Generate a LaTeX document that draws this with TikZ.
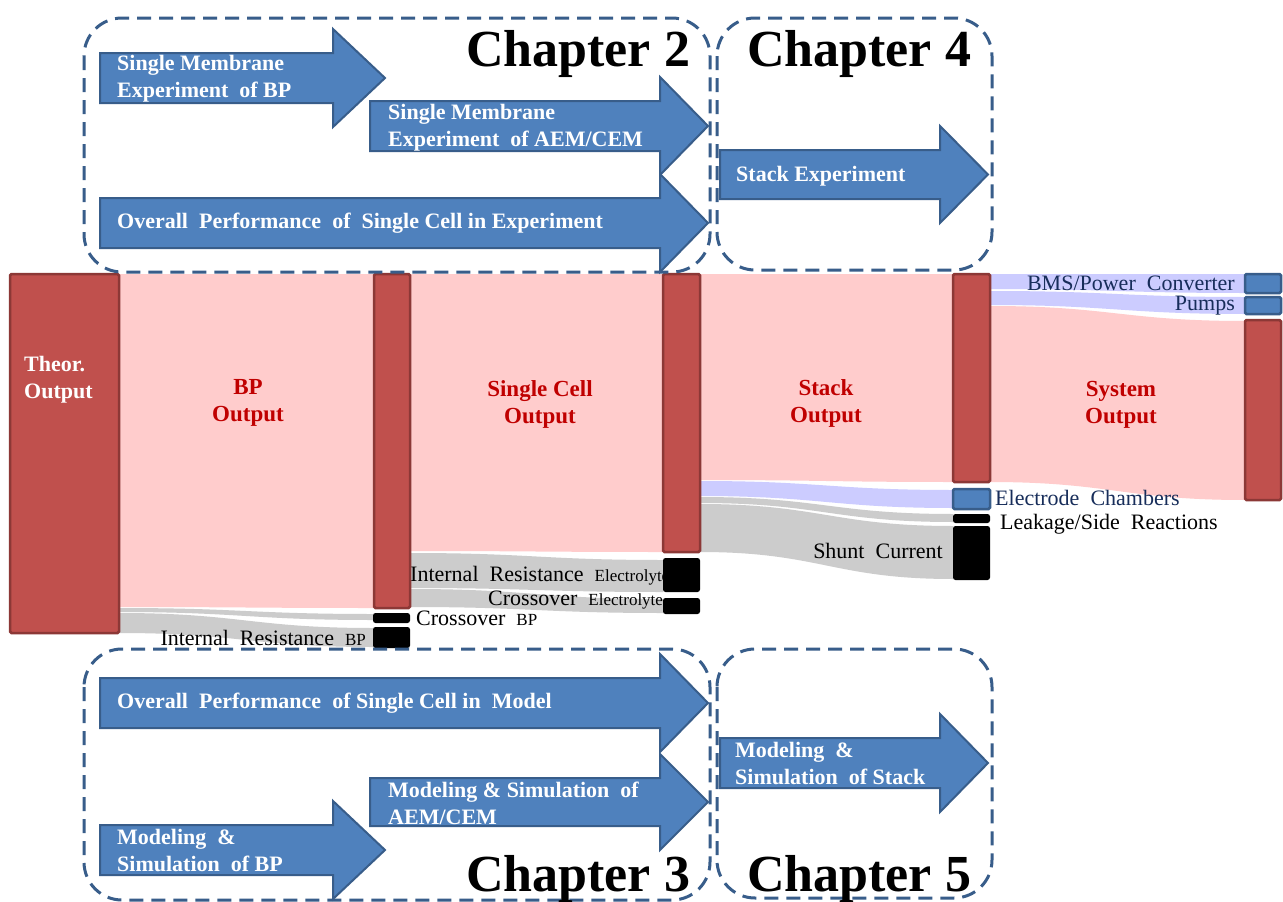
\documentclass[tikz,border=0pt]{standalone}
\usepackage{fontspec}
\setmainfont{Liberation Serif}
\usetikzlibrary{positioning,calc,backgrounds}

\definecolor{barred}{RGB}{192,80,77}
\definecolor{barredline}{RGB}{140,56,54}
\definecolor{barblue}{RGB}{79,129,189}
\definecolor{barblueline}{RGB}{56,93,138}
\definecolor{pinkflow}{RGB}{255,204,204}
\definecolor{greyflow}{RGB}{204,204,204}
\definecolor{blueflow}{RGB}{204,204,255}
\definecolor{outred}{RGB}{192,0,0}
\definecolor{chapline}{RGB}{56,93,138}
\definecolor{navytext}{RGB}{23,45,90}

% band between two nodes, offsets measured down from their tops
\newcommand\bandflow[7]{\fill[#1] ($(#2.north east)+(0,#3)$) to[out=0,in=180,looseness=1.2] ($(#5.north west)+(0,#6)$) -- ($(#5.north west)+(0,#7)$) to[out=180,in=0,looseness=1.2] ($(#2.north east)+(0,#4)$) -- cycle;}
% left x, shaft top, shaft bottom, head base x, tip x
\newcommand\blockarrow[5]{\draw[arrowbody] (#1,#2) -- (#4,#2) -- (#4,{#2-24}) -- (#5,{(#2+#3)/2}) -- (#4,{#3+24}) -- (#4,#3) -- (#1,#3) -- cycle;}
\newcommand\smallpart[1]{{\fontsize{17}{20}\selectfont #1}}

\begin{document}
\begin{tikzpicture}[x=1pt,y=1pt,yscale=-1,
  redbar/.style={draw=barredline,fill=barred,line width=2.5pt,anchor=north west,inner sep=0pt,outer sep=0pt,rounded corners=1.5pt},
  bluebox/.style={draw=barblueline,fill=barblue,line width=2.5pt,anchor=north west,inner sep=0pt,outer sep=0pt,rounded corners=1.5pt},
  lossbox/.style={fill=black,anchor=north west,inner sep=0pt,outer sep=0pt,rounded corners=2.5pt},
  arrowbody/.style={draw=barblueline,fill=barblue,line width=2pt},
  arrowtext/.style={text=white,font=\fontsize{22}{27}\selectfont\bfseries,align=left,anchor=west,inner sep=0pt},
  outlabel/.style={text=outred,font=\fontsize{23}{27}\selectfont\bfseries,align=center,inner sep=0pt},
  losstext/.style={font=\fontsize{22}{24}\selectfont,inner sep=0pt},
  chapbox/.style={draw=chapline,line width=3pt,dash pattern=on 14pt off 8pt,rounded corners=38pt},
  chaptitle/.style={font=\fontsize{52}{60}\selectfont\bfseries,anchor=base west,inner sep=0pt}]
\useasboundingbox (0,0) rectangle (1283,902);
\begin{scope}[on background layer]
\fill[white] (0,0) rectangle (1283,902);
\end{scope}

\node[redbar, minimum width=109pt, minimum height=359pt] (theor) at (10,274) {};
\node[redbar, minimum width=36pt, minimum height=334pt] (bpbar) at (374,274) {};
\node[lossbox, minimum width=37pt, minimum height=10pt] (cbp) at (373,613) {};
\node[lossbox, minimum width=37pt, minimum height=21pt] (irbp) at (373,627) {};
\node[redbar, minimum width=37pt, minimum height=278pt] (scbar) at (663,274) {};
\node[lossbox, minimum width=37pt, minimum height=34pt] (ire) at (663,558) {};
\node[lossbox, minimum width=37pt, minimum height=16pt] (cre) at (663,598) {};
\node[redbar, minimum width=37pt, minimum height=208pt] (stbar) at (953,274) {};
\node[bluebox, minimum width=37pt, minimum height=20pt] (ec) at (953,489) {};
\node[lossbox, minimum width=37pt, minimum height=9pt] (lk) at (953,514) {};
\node[lossbox, minimum width=37pt, minimum height=54pt] (sh) at (953,526) {};
\node[bluebox, minimum width=36pt, minimum height=19pt] (bms) at (1245,274) {};
\node[bluebox, minimum width=36pt, minimum height=17pt] (pumps) at (1245,297) {};
\node[redbar, minimum width=36pt, minimum height=180pt] (sysbar) at (1245,320) {};

\begin{scope}[on background layer]
\bandflow{pinkflow}{theor}{0}{333}{bpbar}{0}{334}
\bandflow{greyflow}{theor}{334}{338}{cbp}{1}{7}
\bandflow{greyflow}{theor}{339}{359}{irbp}{1}{20}
\bandflow{pinkflow}{bpbar}{0}{277}{scbar}{0}{278}
\bandflow{greyflow}{bpbar}{279}{314}{ire}{2}{34}
\bandflow{greyflow}{bpbar}{315}{333}{cre}{1}{15}
\bandflow{pinkflow}{scbar}{0}{206}{stbar}{0}{208}
\bandflow{blueflow}{scbar}{207}{222}{ec}{1}{19}
\bandflow{greyflow}{scbar}{223}{229}{lk}{0}{8}
\bandflow{greyflow}{scbar}{230}{278}{sh}{0}{53}
\bandflow{blueflow}{stbar}{0}{15}{bms}{0}{19}
\bandflow{blueflow}{stbar}{17}{31}{pumps}{0}{17}
\bandflow{pinkflow}{stbar}{32}{208}{sysbar}{1}{180}

\node[losstext, left=7pt of irbp] (irbptxt) {Internal~~Resistance~~\smallpart{BP}};
\node[losstext, right=6pt of cbp] (cbptxt) {Crossover~~\smallpart{BP}};
\node[losstext, anchor=west] (iretxt) at (410,576) {Internal~~Resistance~~\smallpart{Electrolyte}};
\node[losstext, anchor=west] (cretxt) at (488,600) {Crossover~~\smallpart{Electrolyte}};
\node[losstext, anchor=east] (shtxt) at (943,551) {Shunt~~Current};
\node[losstext, text=navytext, anchor=west] (ectxt) at (995,498) {Electrode~~Chambers};
\node[losstext, anchor=west] (lktxt) at (1000,524) {Leakage/Side~~Reactions};
\node[losstext, text=navytext, left=10pt of bms] (bmstxt) {BMS/Power~~Converter};
\node[losstext, text=navytext, left=10pt of pumps] (pumpstxt) {Pumps};
\end{scope}

\node[text=white, font=\fontsize{22}{27}\selectfont\bfseries, align=left, anchor=west, inner sep=0pt] (theortxt) at (24,380) {Theor.\\Output};
\node[outlabel] (bpout) at (248,403) {BP\\Output};
\node[outlabel] (scout) at (540,404) {Single Cell\\Output};
\node[outlabel] (stout) at (826,403) {Stack\\Output};
\node[outlabel] (sysout) at (1121,405) {System\\Output};

\blockarrow{100}{53}{103}{333}{385}
\blockarrow{370}{101}{151}{660}{708}
\blockarrow{100}{198}{248}{660}{708}
\blockarrow{720}{150}{199}{940}{988}
\blockarrow{100}{678}{728}{660}{708}
\blockarrow{370}{778}{826}{660}{708}
\blockarrow{100}{825}{875}{333}{385}
\blockarrow{720}{738}{788}{940}{988}

\node[arrowtext] (smbp) at (117,79) {Single Membrane\\Experiment~~of BP};
\node[arrowtext] (smaem) at (388,128) {Single Membrane\\Experiment~~of AEM/CEM};
\node[arrowtext] (scexp) at (117,223) {Overall~~Performance~~of~~Single Cell in Experiment};
\node[arrowtext] (stexp) at (736,176) {Stack Experiment};
\node[arrowtext] (scmod) at (117,703) {Overall~~Performance~~of Single Cell in~~Model};
\node[arrowtext] (msaem) at (388,803) {Modeling \& Simulation~~of\\AEM/CEM};
\node[arrowtext] (msbp) at (117,850) {Modeling~~\&\\Simulation~~of BP};
\node[arrowtext] (msstack) at (735,763) {Modeling~~\&\\Simulation~~of Stack};

\draw[chapbox] (84,18) rectangle (710,272);
\draw[chapbox] (717,18) rectangle (992,270);
\draw[chapbox] (84,649) rectangle (710,900);
\draw[chapbox] (717,649) rectangle (992,898);

\node[chaptitle] (ch2) at (466,66) {Chapter 2};
\node[chaptitle] (ch4) at (747,66) {Chapter 4};
\node[chaptitle] (ch3) at (466,891) {Chapter 3};
\node[chaptitle] (ch5) at (747,891) {Chapter 5};
\end{tikzpicture}
\end{document}
